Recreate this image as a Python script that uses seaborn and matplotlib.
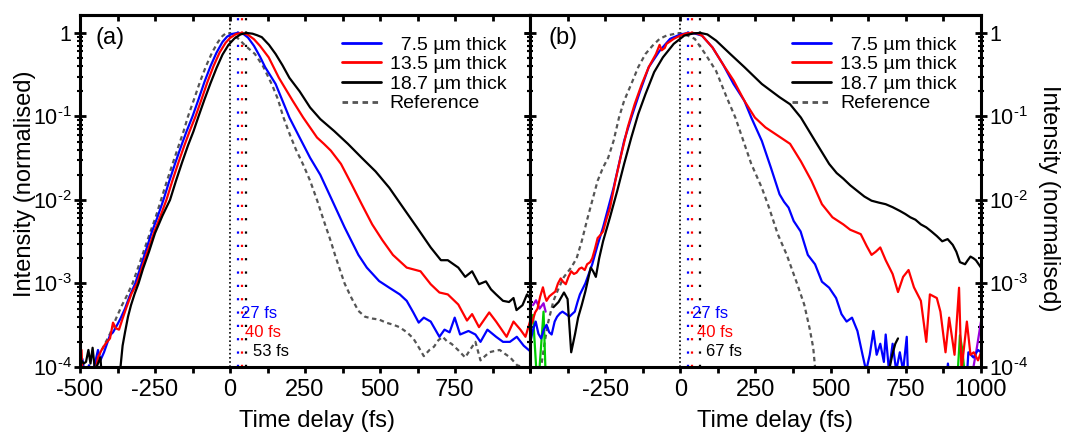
import matplotlib
matplotlib.use("Agg")
import matplotlib.pyplot as plt
import seaborn as sns
from matplotlib.ticker import FixedLocator, MultipleLocator, LogLocator, NullFormatter, FixedFormatter
from matplotlib.lines import Line2D

# ---------------- data ----------------
# Panel (a)
a_ref_t = [-500, -470, -457, -440, -420, -400, -380, -360, -345, -325, -305, -285, -265, -248, -230, -210, -190, -170,
           -155, -140, -120, -100, -80, -60, -40, -25, -12, 0, 15, 30, 45, 60, 83, 110, 140, 160, 177, 200, 220, 245,
           267, 290, 313, 336, 350, 364, 382, 405, 428, 450, 475, 497, 520, 545, 565, 590, 611, 630, 646, 665, 680,
           695, 709, 725, 738, 760, 784, 800, 818, 835, 850, 864, 880, 899, 915, 934, 957, 975, 991, 1000]
a_ref_i = [5e-5, 7e-5, 1.0e-4, 1.3e-4, 1.8e-4, 2.5e-4, 3.8e-4, 5.5e-4, 7e-4, 1.0e-3, 1.6e-3, 2.6e-3, 4.2e-3, 6.2e-3,
           1.0e-2, 1.7e-2, 2.8e-2, 4.6e-2, 6.6e-2, 0.1, 0.16, 0.26, 0.4, 0.58, 0.78, 0.92, 1.0, 0.99, 0.93, 0.84, 0.74,
           0.66, 0.56, 0.4, 0.24, 0.16, 0.1, 0.06, 0.04, 0.026, 0.017, 0.01, 0.0056, 0.0032, 0.0022, 0.00155, 1.0e-3,
           6.7e-4, 4.7e-4, 4.0e-4, 3.8e-4, 3.7e-4, 3.4e-4, 3.2e-4, 3.0e-4, 2.6e-4, 2.2e-4, 1.7e-4, 1.35e-4, 1.6e-4,
           1.75e-4, 2.1e-4, 2.3e-4, 2.0e-4, 1.9e-4, 1.6e-4, 1.3e-4, 1.6e-4, 2.0e-4, 1.2e-4, 1.35e-4, 1.5e-4, 1.55e-4,
           1.6e-4, 1.45e-4, 1.3e-4, 1.05e-4, 1.0e-4, 9.5e-5, 9e-5]

a_75_t = [-500, -492, -484, -470, -460, -448, -440, -432, -420, -410, -400, -390, -378, -365, -350, -335, -316, -300,
          -280, -262, -242, -222, -202, -182, -162, -145, -125, -105, -85, -65, -45, -25, -10, 5, 25, 45, 60, 80, 100,
          117, 152, 198, 232, 267, 301, 341, 382, 428, 456, 497, 531, 566, 589, 611, 629, 646, 669, 698, 715, 732, 749,
          767, 795, 818, 835, 858, 887, 910, 933, 956, 979, 1000]
a_75_i = [7e-5, 1.25e-4, 8e-5, 1.05e-4, 8e-5, 1.2e-4, 1.6e-4, 1.2e-4, 1.5e-4, 1.9e-4, 2.4e-4, 2.6e-4, 3.1e-4, 3.8e-4,
          5e-4, 7e-4, 1.0e-3, 1.5e-3, 2.5e-3, 4e-3, 6.2e-3, 1.0e-2, 1.7e-2, 2.8e-2, 4.5e-2, 6.6e-2, 0.1, 0.16, 0.26, 0.4,
          0.58, 0.78, 0.9, 0.97, 1.0, 0.97, 0.88, 0.7, 0.52, 0.39, 0.245, 0.097, 0.056, 0.032, 0.020, 0.0098, 0.0047,
          0.0022, 0.00155, 0.00107, 8.9e-4, 7.4e-4, 6.2e-4, 4.5e-4, 3.4e-4, 3.9e-4, 3.5e-4, 2.3e-4, 2.8e-4, 2.6e-4,
          3.9e-4, 2.45e-4, 2.7e-4, 2.45e-4, 2.0e-4, 2.8e-4, 2.3e-4, 2.0e-4, 2.0e-4, 2.3e-4, 1.8e-4, 1.55e-4]

a_135_t = [-500, -495, -490, -465, -450, -440, -428, -415, -400, -390, -380, -370, -358, -345, -328, -310, -292, -272,
           -252, -232, -212, -192, -172, -152, -135, -115, -95, -75, -55, -35, -15, 0, 20, 40, 60, 80, 100, 129, 163,
           209, 244, 290, 313, 336, 370, 405, 439, 474, 508, 543, 589, 635, 669, 698, 726, 761, 790, 807, 830, 864, 887,
           922, 945, 968, 985, 1000]
a_135_i = [5e-5, 1.6e-4, 6e-5, 5e-5, 8e-5, 1.3e-4, 1.6e-4, 1.9e-4, 2.2e-4, 3.4e-4, 2.9e-4, 2.8e-4, 3.8e-4, 5.2e-4,
           7.6e-4, 1.0e-3, 1.6e-3, 2.6e-3, 4.2e-3, 6.4e-3, 1.0e-2, 1.7e-2, 2.8e-2, 4.5e-2, 6.6e-2, 0.1, 0.16, 0.26, 0.4,
           0.58, 0.76, 0.87, 0.97, 1.0, 0.95, 0.84, 0.7, 0.51, 0.29, 0.154, 0.097, 0.056, 0.047, 0.039, 0.027, 0.0155,
           0.0089, 0.0051, 0.0033, 0.0022, 0.00155, 0.0014, 9.8e-4, 7.8e-4, 7.4e-4, 5.6e-4, 3.6e-4, 4.3e-4, 3.0e-4,
           4.5e-4, 3.5e-4, 2.3e-4, 3.5e-4, 2.8e-4, 2.3e-4, 3.5e-4]

a_187_t = [-500, -495, -488, -480, -472, -465, -458, -450, -440, -432, -425, -372, -365, -358, -350, -340, -330, -318,
           -305, -290, -270, -250, -225, -200, -180, -160, -140, -122, -105, -85, -65, -45, -25, -5, 15, 35, 55, 75, 90,
           106, 130, 152, 175, 198, 232, 267, 301, 347, 393, 439, 485, 531, 577, 623, 669, 703, 726, 745, 761, 784, 807,
           830, 853, 870, 887, 910, 930, 945, 955, 975, 990, 1000]
a_187_i = [1.0e-4, 1.2e-4, 1.1e-4, 1.15e-4, 1.6e-4, 1.1e-4, 1.7e-4, 9e-5, 1.1e-4, 1.3e-4, 6e-5, 6e-5, 1.0e-4, 1.8e-4,
           2.6e-4, 4e-4, 5.5e-4, 7.5e-4, 1.0e-3, 1.5e-3, 2.4e-3, 4e-3, 6.5e-3, 1.0e-2, 1.7e-2, 2.8e-2, 4.5e-2, 6.6e-2,
           0.1, 0.16, 0.25, 0.38, 0.55, 0.72, 0.86, 0.96, 1.0, 0.98, 0.94, 0.89, 0.72, 0.56, 0.41, 0.29, 0.2, 0.128,
           0.093, 0.067, 0.047, 0.032, 0.022, 0.014, 0.0081, 0.0047, 0.0027, 0.0019, 0.0019, 0.0017, 0.00155, 0.0012,
           0.0014, 9.8e-4, 1.06e-3, 8.5e-4, 7.4e-4, 6.2e-4, 6.0e-4, 6.7e-4, 4.8e-4, 5.5e-4, 7.4e-4, 6.7e-4]

# Panel (b)
b_ref_t = [-500, -475, -463, -451, -439, -422, -404, -387, -363, -345, -328, -310, -293, -275, -257, -240, -222, -204,
           -187, -163, -140, -116, -93, -69, -46, -22, -10, 13, 48, 83, 119, 154, 183, 213, 236, 271, 295, 324, 354, 389,
           412, 430, 442, 448, 470, 1000]
b_ref_i = [5e-5, 7e-5, 1e-4, 2.0e-4, 3.5e-4, 6.2e-4, 8.9e-4, 1.2e-3, 1.55e-3, 2.0e-3, 3.2e-3, 5.8e-3, 9.8e-3, 1.7e-2,
           2.45e-2, 3.2e-2, 5.1e-2, 9.7e-2, 0.154, 0.245, 0.39, 0.56, 0.7, 0.85, 0.93, 0.97, 1.0, 0.97, 0.85, 0.56, 0.35,
           0.17, 0.097, 0.047, 0.027, 0.014, 0.0081, 0.0039, 0.0022, 9.8e-4, 5.6e-4, 2.9e-4, 1.7e-4, 1e-4, 5e-5, 5e-5]

b_75_t = [-500, -490, -481, -472, -463, -454, -445, -436, -428, -418, -410, -400, -392, -380, -369, -360, -351, -342,
          -334, -316, -293, -275, -257, -240, -222, -204, -187, -163, -134, -105, -69, -34, 0, 27, 50, 72, 107, 142,
          177, 213, 236, 271, 301, 330, 345, 360, 377, 400, 424, 448, 471, 495, 518, 536, 553, 571, 589, 606, 618, 630,
          642, 653, 665, 677, 683, 694, 706, 718, 730, 741, 753, 759, 880, 890, 900, 950, 958, 975, 990, 1000]
b_75_i = [1.9e-4, 2.8e-4, 3.5e-4, 2.5e-4, 2.2e-4, 2.8e-4, 3.2e-4, 2.6e-4, 2.45e-4, 3.5e-4, 4.0e-4, 4.4e-4, 4.6e-4,
          4.3e-4, 4.0e-4, 4.3e-4, 4.6e-4, 6e-4, 7.4e-4, 1.0e-3, 1.7e-3, 2.9e-3, 4.7e-3, 8e-3, 0.014, 0.027, 0.051, 0.097,
          0.2, 0.39, 0.61, 0.85, 0.96, 1.0, 0.98, 0.93, 0.67, 0.42, 0.245, 0.154, 0.097, 0.051, 0.0245, 0.0117, 0.0095,
          0.0081, 0.0056, 0.0042, 0.0022, 0.0017, 0.00105, 8.9e-4, 6.7e-4, 4.3e-4, 3.5e-4, 3.9e-4, 2.7e-4, 1.4e-4,
          9e-5, 1.4e-4, 2.7e-4, 1.4e-4, 1.9e-4, 1.15e-4, 2.45e-4, 9e-5, 1.9e-4, 9e-5, 1.5e-4, 9e-5, 2.3e-4, 5e-5,
          5e-5, 1.1e-4, 5e-5, 5e-5, 1.5e-4, 1.3e-4, 1.6e-4, 1.5e-4]

b_135_t = [-500, -492, -483, -475, -466, -457, -450, -445, -436, -428, -416, -407, -398, -390, -381, -372, -363, -354,
           -345, -336, -328, -318, -310, -300, -293, -284, -275, -266, -257, -245, -234, -216, -199, -175, -152, -128,
           -105, -81, -69, -62, -52, -46, -22, 0, 20, 40, 55, 72, 107, 142, 177, 213, 248, 283, 318, 340, 365, 401, 436,
           471, 506, 542, 565, 600, 620, 636, 650, 665, 683, 706, 724, 741, 759, 777, 800, 818, 830, 853, 865, 882, 894,
           912, 927, 935, 953, 965, 976, 990, 1000]
b_135_i = [3.0e-4, 3.5e-4, 4.5e-4, 5e-4, 7e-4, 9e-4, 7e-4, 6.2e-4, 7e-4, 7.4e-4, 8e-4, 1.0e-3, 1.15e-3, 1.05e-3, 9.8e-4,
           1.2e-3, 1.4e-3, 1.3e-3, 1.35e-3, 1.5e-3, 1.55e-3, 1.45e-3, 1.7e-3, 1.8e-3, 2.0e-3, 2.6e-3, 3.5e-3, 3.8e-3,
           4.2e-3, 6e-3, 8e-3, 0.017, 0.032, 0.074, 0.14, 0.245, 0.39, 0.56, 0.72, 0.62, 0.66, 0.74, 0.85, 0.93, 0.99,
           1.0, 0.99, 0.93, 0.67, 0.42, 0.27, 0.154, 0.097, 0.074, 0.061, 0.054, 0.047, 0.029, 0.017, 0.0089, 0.0062,
           0.0051, 0.0044, 0.0039, 0.0028, 0.0022, 0.0024, 0.0027, 0.0019, 0.0013, 7.9e-4, 1.2e-3, 1.45e-3, 9e-4, 6.2e-4,
           2.0e-4, 7.4e-4, 6.7e-4, 4.6e-4, 1.5e-4, 3.9e-4, 1.4e-4, 8.9e-4, 9e-5, 3.5e-4, 1.4e-4, 1.5e-4, 1.2e-4, 1.5e-4]

b_187_t = [-422, -405, -387, -375, -363, -350, -340, -328, -316, -298, -290, -281, -270, -257, -234, -210, -187, -163,
           -140, -116, -87, -58, -22, 13, 45, 67, 90, 119, 166, 213, 271, 330, 365, 401, 448, 495, 520, 542, 565, 589,
           612, 636, 660, 683, 706, 730, 748, 765, 782, 800, 818, 835, 853, 871, 889, 906, 918, 930, 947, 956, 965, 975,
           983, 1000]
b_187_i = [5.2e-4, 6e-4, 7.8e-4, 6.5e-4, 1.5e-4, 2.5e-4, 3.9e-4, 5.5e-4, 8e-4, 1.55e-3, 1.4e-3, 1.2e-3, 2.0e-3, 3.2e-3,
           6.2e-3, 0.0128, 0.027, 0.056, 0.107, 0.185, 0.34, 0.51, 0.74, 0.93, 0.99, 1.0, 0.96, 0.81, 0.56, 0.39, 0.245,
           0.17, 0.14, 0.097, 0.051, 0.027, 0.021, 0.018, 0.015, 0.0128, 0.011, 0.0098, 0.0093, 0.0089, 0.0082, 0.0074,
           0.0068, 0.0062, 0.0058, 0.0051, 0.0047, 0.0042, 0.0037, 0.0032, 0.0034, 0.0029, 0.0024, 0.0018, 0.0017,
           0.0019, 0.0021, 0.002, 0.0019, 0.00155]
b_187_seg_t = [694, 705, 715, 724]
b_187_seg_i = [9e-5, 1.4e-4, 1.9e-4, 2.2e-4]

# extra short traces near the panel (b) edges
b_purple1_t = [-490, -480, -468, -455, -448]
b_purple1_i = [5.5e-4, 6.3e-4, 5.0e-4, 5.8e-4, 4.6e-4]
b_green1_t = [-490, -478, -470, -455, -448]
b_green1_i = [4.2e-4, 8e-5, 8e-5, 4.6e-4, 8e-5]
b_green2_t = [922, 930, 938, 946]
b_green2_i = [8e-5, 2.4e-4, 1.6e-4, 8e-5]
b_purple2_t = [970, 985, 1000]
b_purple2_i = [8e-5, 1.6e-4, 3.5e-4]

series_labels = ["  7.5 \u00b5m thick", "13.5 \u00b5m thick", "18.7 \u00b5m thick", "Reference"]
delays_a = [27, 40, 53]
delays_b = [27, 40, 67]
x_major = [-500, -250, 0, 250, 500, 750, 1000]
xlabels_a = ["-500", "-250", "0", "250", "500", "750", ""]
xlabels_b = ["", "-250", "0", "250", "500", "750", "1000"]
y_major = [1e-4, 1e-3, 1e-2, 1e-1, 1]
y_labels = [r"$10^{\text{-4}}$", r"$10^{\text{-3}}$", r"$10^{\text{-2}}$", r"$10^{\text{-1}}$", "1"]

# ---------------- style ----------------
sns.set_theme(style="ticks")
plt.rcParams['font.family'] = ['Liberation Sans', 'DejaVu Sans']
plt.rcParams['mathtext.fontset'] = 'custom'
plt.rcParams['mathtext.rm'] = 'Liberation Sans'
plt.rcParams['mathtext.it'] = 'Liberation Sans:italic'
plt.rcParams['mathtext.bf'] = 'Liberation Sans:bold'
plt.rcParams['axes.unicode_minus'] = False
for key in ['text.color', 'axes.labelcolor', 'xtick.color', 'ytick.color', 'xtick.labelcolor', 'ytick.labelcolor']:
    plt.rcParams[key] = 'black'

BLUE, RED, BLACK, GRAY = "#0000ff", "#ff0000", "#000000", "#555555"
PURPLE, GREEN = "#9900dd", "#00cc00"
LW = 1.6
REF_LS = (0, (2.0, 1.6))

fig = plt.figure(figsize=(10.7, 4.32), dpi=100)
W, H = 1070, 432
axA = fig.add_axes([80 / W, 1 - 367 / H, 450 / W, 352 / H])
axB = fig.add_axes([530 / W, 1 - 367 / H, 451 / W, 352 / H])


def line(ax, t, i, color, ls="-"):
    sns.lineplot(x=t, y=i, ax=ax, color=color, lw=LW, linestyle=ls, estimator=None, sort=False, legend=False)


def style_axes(ax, xlabels, delays, texts, text_x, left):
    ax.set_yscale("log")
    ax.set_xlim(-500, 1000)
    ax.set_ylim(1e-4, 1.64)
    for s in ax.spines.values():
        s.set_visible(True)
        s.set_linewidth(2.2)
        s.set_color("black")
    ax.xaxis.set_major_locator(FixedLocator(x_major))
    ax.xaxis.set_major_formatter(FixedFormatter(xlabels))
    ax.xaxis.set_minor_locator(MultipleLocator(125))
    ax.tick_params(axis="x", which="both", direction="out", bottom=True, top=False,
                   length=4.5, width=2, pad=4.5, labelsize=17, colors="black")
    ax.yaxis.set_major_locator(FixedLocator(y_major))
    ax.yaxis.set_major_formatter(FixedFormatter(y_labels))
    ax.yaxis.set_minor_locator(LogLocator(base=10, subs=[2, 3, 4, 5, 6, 7, 8, 9], numticks=20))
    ax.yaxis.set_minor_formatter(NullFormatter())
    ax.tick_params(axis="y", which="major", direction="inout", left=True, right=True,
                   length=8, width=2, labelsize=15.5, pad=2, colors="black",
                   labelleft=left, labelright=not left)
    ax.tick_params(axis="y", which="minor", direction="inout", left=True, right=True,
                   length=4.5, width=1.5, colors="black")
    sec = ax.secondary_xaxis("top")
    sec.xaxis.set_major_locator(MultipleLocator(125))
    sec.tick_params(axis="x", which="major", direction="in", length=4, width=2, labeltop=False, colors="black")
    sec.spines["top"].set_linewidth(2.2)
    ax.grid(False)
    # delay markers
    ax.axvline(0, color="black", lw=1.2, linestyle=(0, (1, 1.5)), zorder=1)
    for d, c in zip(delays, [BLUE, RED, BLACK]):
        ax.axvline(d, color=c, lw=1.6, linestyle=(0, (1, 5)), zorder=1)
    for (txt, c, y), x in zip(texts, text_x):
        ax.text(x, y, txt, color=c, fontsize=12, ha="left", va="center")
    ax.set_xlabel("Time delay (fs)", fontsize=17, color="black")


# ---------------- panel (a) ----------------
line(axA, a_ref_t, a_ref_i, GRAY, REF_LS)
line(axA, a_75_t, a_75_i, BLUE)
line(axA, a_135_t, a_135_i, RED)
line(axA, a_187_t, a_187_i, BLACK)
style_axes(axA, xlabels_a, delays_a,
           [("27 fs", BLUE, 4.4e-4), ("40 fs", RED, 2.6e-4), ("53 fs", BLACK, 1.55e-4)],
           [37, 50, 76], left=True)
axA.set_ylabel("Intensity (normalised)", fontsize=17, color="black")
axA.yaxis.set_label_coords(-0.098, 0.52)
axA.xaxis.set_label_coords(0.527, -0.122)
axA.text(-447, 0.87, "(a)", fontsize=17, ha="left", va="center", color="black")

# ---------------- panel (b) ----------------
line(axB, b_ref_t, b_ref_i, GRAY, REF_LS)
line(axB, b_purple1_t, b_purple1_i, PURPLE)
line(axB, b_green1_t, b_green1_i, GREEN)
line(axB, b_green2_t, b_green2_i, GREEN)
line(axB, b_purple2_t, b_purple2_i, PURPLE)
line(axB, b_75_t, b_75_i, BLUE)
line(axB, b_135_t, b_135_i, RED)
line(axB, b_187_t, b_187_i, BLACK)
line(axB, b_187_seg_t, b_187_seg_i, BLACK)
style_axes(axB, xlabels_b, delays_b,
           [("27 fs", BLUE, 4.4e-4), ("40 fs", RED, 2.6e-4), ("67 fs", BLACK, 1.55e-4)],
           [40, 57, 86], left=False)
axB.yaxis.set_label_position("right")
axB.set_ylabel("Intensity (normalised)", fontsize=17, color="black", rotation=270, va="bottom")
axB.yaxis.set_label_coords(1.127, 0.48)
axB.xaxis.set_label_coords(0.543, -0.122)
axB.text(-437, 0.87, "(b)", fontsize=17, ha="left", va="center", color="black")

# ---------------- legends ----------------
handles = [Line2D([], [], color=BLUE, lw=2), Line2D([], [], color=RED, lw=2),
           Line2D([], [], color=BLACK, lw=2), Line2D([], [], color=GRAY, lw=2, linestyle=(0, (2.0, 1.6)))]
for ax in (axA, axB):
    leg = ax.legend(handles, series_labels, loc="upper left", bbox_to_anchor=(0.582, 0.94), frameon=False,
                    fontsize=14, handlelength=2.0, handletextpad=0.45, labelspacing=0.1,
                    borderpad=0, borderaxespad=0, labelcolor="black")

fig.savefig("out.png", dpi=100)
